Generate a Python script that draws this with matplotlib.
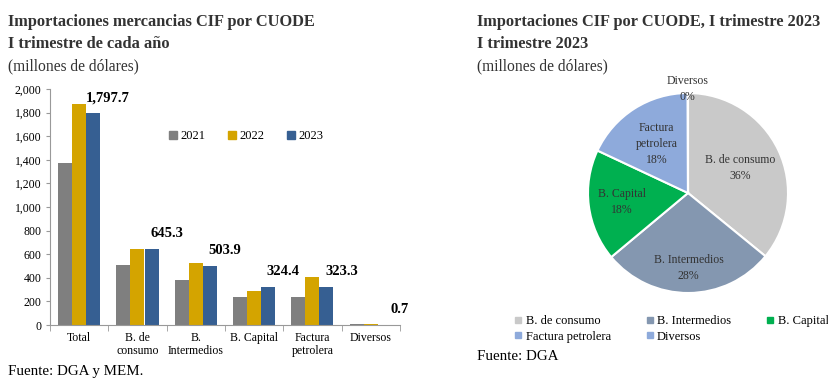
"""Importaciones CIF por CUODE: barras por año (I trimestre) y pastel 2023."""
import matplotlib
matplotlib.use("Agg")
import matplotlib.pyplot as plt
from matplotlib.lines import Line2D
import numpy as np

plt.rcParams["font.family"] = ["Liberation Serif", "DejaVu Serif"]

# --- datos ---
categories = ["Total", "B. de\nconsumo", "B.\nIntermedios", "B. Capital",
              "Factura\npetrolera", "Diversos"]
years = ["2021", "2022", "2023"]
v2021 = [1370, 510, 380, 240, 240, 7]
v2022 = [1870, 645, 525, 290, 410, 6]
v2023 = [1797.7, 645.3, 503.9, 324.4, 323.3, 0.7]
bar_labels = ["1,797.7", "645.3", "503.9", "324.4", "323.3", "0.7"]

pie_names = ["B. de consumo", "B. Intermedios", "B. Capital", "Factura petrolera", "Diversos"]
pie_values = [645.3, 503.9, 324.4, 323.3, 0.7]
pie_pct = ["36%", "28%", "18%", "18%", "0%"]
pie_text = ["B. de consumo", "B. Intermedios", "B. Capital", "Factura\npetrolera", "Diversos"]

BAR_COLORS = ["#7f7f7f", "#d4a400", "#365f92"]
PIE_COLORS = ["#c9c9c9", "#8497b0", "#00b050", "#8eaadb", "#8eaadb"]
TXT = "#333333"

W, H = 829, 391
fig = plt.figure(figsize=(W / 100, H / 100), dpi=100)


def fx(px):
    return px / W


def fy(py):
    return 1 - py / H


# --- titulos ---
for x0, lines in [(8, ["Importaciones mercancias CIF por CUODE", "I trimestre de cada año"]),
                  (477, ["Importaciones CIF por CUODE, I trimestre 2023", "I trimestre 2023"])]:
    fig.text(fx(x0), fy(22), lines[0], fontsize=11.8, fontweight="bold", color=TXT, va="center")
    fig.text(fx(x0), fy(44), lines[1], fontsize=11.8, fontweight="bold", color=TXT, va="center")
    fig.text(fx(x0), fy(66), "(millones de dólares)", fontsize=11.2, color=TXT, va="center")

fig.text(fx(8), fy(372), "Fuente: DGA y MEM.", fontsize=10.8, color="black", va="center")
fig.text(fx(477), fy(357), "Fuente: DGA", fontsize=10.8, color="black", va="center")

# --- barras ---
ax = fig.add_axes([fx(50), fy(325), fx(400) - fx(50), fy(89) - fy(325)])
x = np.arange(len(categories))
bw = 0.24
for i, (vals, c) in enumerate(zip([v2021, v2022, v2023], BAR_COLORS)):
    ax.bar(x + (i - 1) * bw, vals, bw, color=c, label=years[i], zorder=2)

for xi, v, lab in zip(x, v2023, bar_labels):
    ax.annotate(lab, (xi + bw, v), textcoords="offset pixels", xytext=(15, 15),
                ha="center", va="center", fontsize=10.5, fontweight="bold", color="black")

ax.set_xlim(-0.5, len(categories) - 0.5)
ax.set_ylim(0, 2000)
ax.set_yticks(range(0, 2001, 200))
ax.set_yticklabels([f"{t:,}" for t in range(0, 2001, 200)])
ax.set_xticks(x)
ax.set_xticklabels(categories, fontsize=8.5, linespacing=1.1)
ax.tick_params(axis="x", length=0, pad=5)
ax.tick_params(axis="y", labelsize=8.5, length=3, color="#999999", pad=3)
ax.set_xticks(np.arange(-0.5, len(categories), 1), minor=True)
ax.tick_params(axis="x", which="minor", length=4, color="#999999")
for s in ["top", "right"]:
    ax.spines[s].set_visible(False)
for s in ["left", "bottom"]:
    ax.spines[s].set_color("#999999")

handles = [Line2D([], [], marker="s", ls="", color=c, markersize=6) for c in BAR_COLORS]
fig.legend(handles, years, loc="center left", bbox_to_anchor=(fx(162), fy(136)), ncol=3,
           frameon=False, fontsize=9, handletextpad=0.1, columnspacing=1.6,
           borderaxespad=0, handlelength=1)

# --- pastel ---
R = 100
pax = fig.add_axes([fx(688 - R), fy(193 + R), 2 * R / W, 2 * R / H])
wedges, _ = pax.pie(pie_values, colors=PIE_COLORS, startangle=90, counterclock=False,
                    radius=1, wedgeprops=dict(edgecolor="white", linewidth=1.5))
label_r = [0.58, 0.75, 0.67, 0.58, 1.04]
for w, r, name, pct in zip(wedges, label_r, pie_text, pie_pct):
    ang = np.deg2rad((w.theta1 + w.theta2) / 2)
    pax.text(r * np.cos(ang), r * np.sin(ang), f"{name}\n{pct}", ha="center", va="center",
             fontsize=8.5, color=TXT, linespacing=1.45)
pax.set_xlim(-1, 1)
pax.set_ylim(-1, 1)
pax.set_aspect("equal")
pax.axis("off")

order = [0, 3, 1, 4, 2]
phandles = [Line2D([], [], marker="s", ls="", color=PIE_COLORS[i], markersize=4) for i in order]
fig.legend(phandles, [pie_names[i] for i in order], loc="upper left",
           bbox_to_anchor=(fx(507), fy(310)), ncol=3, frameon=False, fontsize=9,
           handletextpad=0.1, columnspacing=2.6, borderaxespad=0, handlelength=1,
           labelspacing=0.3)

fig.savefig("out.png", dpi=100)
